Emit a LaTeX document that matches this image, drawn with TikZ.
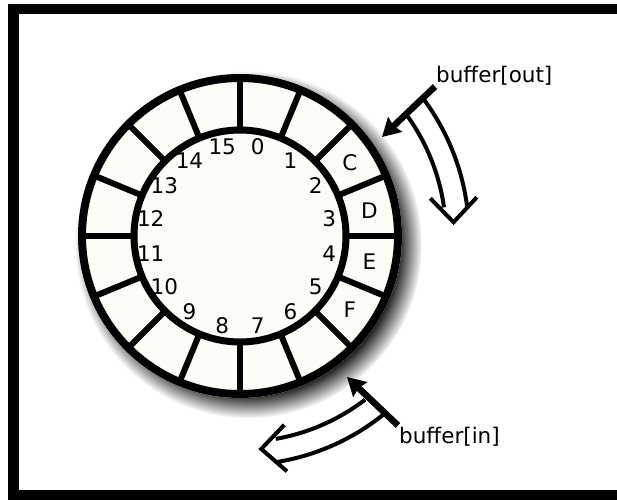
\documentclass[tikz,border=0pt]{standalone}
\usepackage{fontspec}
\setmainfont{DejaVu Sans}
\usetikzlibrary{arrows.meta,shadows}

\definecolor{cellfill}{RGB}{253,253,248}

\begin{document}
\begin{tikzpicture}
  [x=1pt,y=1pt,
   every node/.style={font=\fontsize{21.5}{25}\selectfont,inner sep=1pt},
   spoke/.style={line width=6pt},
   hollow/.style={line width=4pt,line join=miter},
   pointer/.style={line width=6.5pt,-{Stealth[length=18pt,width=20pt,inset=2pt]}}]
  \useasboundingbox (0,0) rectangle (617,-499);
  \clip (0,0) rectangle (617,-499);
  \draw[line width=10.5pt] (13.5,-9) rectangle (650,-495);

  \begin{scope}[shift={(240,-236)}]
    % ring with its shadow
    \fill[cellfill,circular drop shadow={shadow xshift=8pt,shadow yshift=-8pt,
      shadow scale=1.07,opacity=.95,fill=black}] (0,0) circle (162);
    \foreach \a in {0,22.5,...,337.5}
      \draw[spoke] (\a:106) -- (\a:158);
    \draw[line width=8pt] (0,0) circle (158);
    \draw[line width=7pt] (0,0) circle (106);

    \foreach \i in {0,...,15}
      \node (n\i) at ({78.75-22.5*\i}:91) {\i};
    \foreach \l [count=\i from 2] in {C,D,E,F}
      \node (s\l) at ({78.75-22.5*\i}:132) {\l};

    % hollow arrows, out and in
    \foreach \a in {36,-52} {
      \draw[hollow] ({\a-0.6}:206) arc[start angle=\a-0.6,end angle=\a-28,radius=206];
      \draw[hollow] ({\a+0.6}:229) arc[start angle=\a+0.6,end angle=\a-29,radius=229];
      \draw[hollow] ({\a-24.8}:194) -- ({\a-32.3}:214) -- ({\a-26.7}:240);
    }
  \end{scope}

  \node[anchor=base west] (outlbl) at (435,-82.5) {buffer[out]};
  \node[anchor=base west] (inlbl) at (398,-443) {buffer[in]};
  \coordinate (outtip) at (382,-137);
  \coordinate (intip) at (347,-377);
  \draw[pointer] (outlbl.south west) -- (outtip);
  \draw[pointer] (inlbl.north west) -- (intip);
\end{tikzpicture}
\end{document}
